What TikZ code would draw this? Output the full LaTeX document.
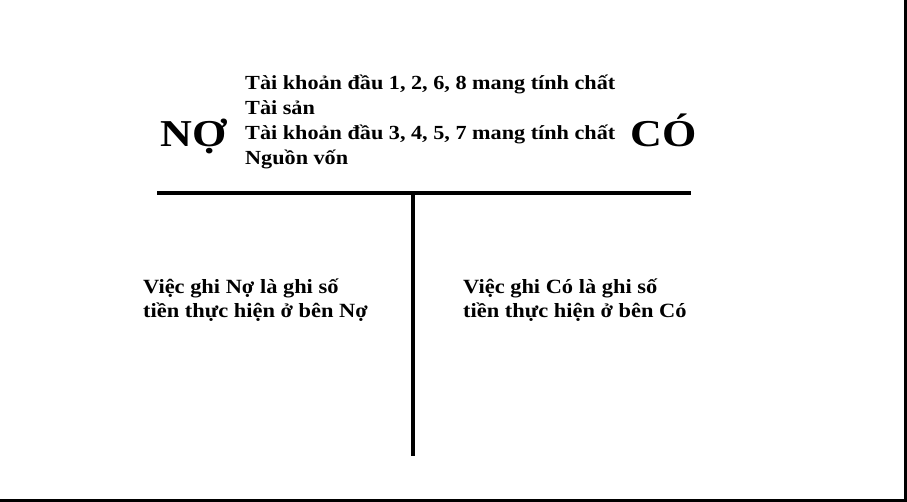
\documentclass[tikz,border=0pt]{standalone}
\usepackage{fontspec}
\setmainfont{Liberation Serif}[FakeStretch=1.11]
\newfontfamily\bigfam{Liberation Serif}[FakeStretch=1.16]
\begin{document}
\begin{tikzpicture}[x=1pt,y=-1pt,
  bigtxt/.style={font=\bigfam\bfseries\fontsize{38}{38}\selectfont, inner sep=0pt},
  smalltxt/.style={font=\bfseries\fontsize{20}{20}\selectfont, inner sep=0pt, anchor=base west},
  bodytxt/.style={font=\bfseries\fontsize{20.2}{20.2}\selectfont, inner sep=0pt, anchor=base west},
  tline/.style={line width=4pt}]
\useasboundingbox (0,0) rectangle (907,502);
\fill[white] (0,0) rectangle (907,502);
% frame edges
\fill[black] (904,0) rectangle (907,502);
\fill[black] (0,499) rectangle (907,502);
% T account
\coordinate (hl) at (157,193);
\coordinate (hr) at (691,193);
\coordinate (vt) at (413,193);
\coordinate (vb) at (413,456);
\draw[tline] (hl) -- (hr);
\draw[tline] (vt) -- (vb);
% headings
\node[bigtxt, anchor=base west] (no) at (160,147) {NỢ};
\node[bigtxt, anchor=base east] (co) at (697,147) {CÓ};
% top lines
\node[smalltxt] (t1) at (245,90) {Tài khoản đầu 1, 2, 6, 8 mang tính chất};
\node[smalltxt] (t2) at (245,115) {Tài sản};
\node[smalltxt] (t3) at (245,140) {Tài khoản đầu 3, 4, 5, 7 mang tính chất};
\node[smalltxt] (t4) at (245,165) {Nguồn vốn};
% bottom texts
\node[bodytxt] (l1) at (143,294) {Việc ghi Nợ là ghi số};
\node[bodytxt] (l2) at (143,318) {tiền thực hiện ở bên Nợ};
\node[bodytxt] (r1) at (463,294) {Việc ghi Có là ghi số};
\node[bodytxt] (r2) at (463,318) {tiền thực hiện ở bên Có};
\end{tikzpicture}
\end{document}
